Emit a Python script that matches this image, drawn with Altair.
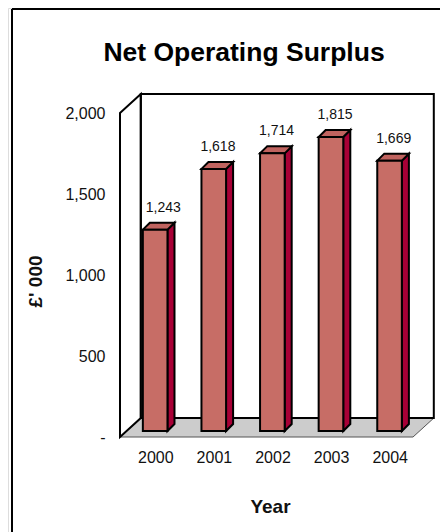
import altair as alt
import pandas as pd

YEARS = [2000, 2001, 2002, 2003, 2004]
VALUES = [1243, 1618, 1714, 1815, 1669]
Y_TICKS = [0, 500, 1000, 1500, 2000]

FONT = "Liberation Sans"
FACE = "#C76D66"
TOP = "#C0635F"
SIDE = "#A80036"
FLOOR = "#CCCCCC"
INK = "#111111"

X0, X1 = 1999.5, 2004.5
WALL_DX, WALL_DV = 0.355, 117.0      # depth of the box, in axis units
BAR_FX, BAR_FV = 0.10, 37.0          # bar front, set back from the box front
BAR_DX, BAR_DV = 0.12, 43.0          # bar depth
BAR_HW = 0.21

x_s = alt.Scale(domain=[X0, X1], range=[112, 405], nice=False, zero=False)
y_s = alt.Scale(domain=[0, 2000], range=[429, 105], nice=False, zero=False)

x_axis = alt.Axis(
    values=YEARS, format="d", title="Year", offset=-75, domain=False, ticks=False,
    grid=False, labelOffset=6, labelPadding=0, labelFont=FONT, labelFontSize=16,
    labelColor=INK, titleFont=FONT, titleFontSize=19, titleFontWeight="bold",
    titleColor=INK, titleX=262, titleY=49, titleBaseline="middle", labelFlush=False,
    labelOverlap=False, labelBaseline="middle")
y_axis = alt.Axis(
    values=Y_TICKS, labelExpr="datum.value == 0 ? '-' : format(datum.value, ',')",
    title="£' 000", offset=-97, domain=False, ticks=False, grid=False, labelPadding=0,
    labelFont=FONT, labelFontSize=16, labelColor=INK, titleFont=FONT, titleFontSize=19,
    titleFontWeight="bold", titleColor=INK, titleX=-60, titleY=273, labelOverlap=False)


def X(f):
    return alt.X(f, scale=x_s, axis=x_axis, stack=None)


def Y(f):
    return alt.Y(f, scale=y_s, axis=y_axis, stack=None)


fronts, sides, tops = [], [], []
for yr, v in zip(YEARS, VALUES):
    l, r = yr + BAR_FX - BAR_HW, yr + BAR_FX + BAR_HW
    b, t = BAR_FV, BAR_FV + v
    fronts.append(dict(year=yr, v=v, l=l, r=r, b=b, t=t))
    sides += [dict(id=yr, px=r, py=t, py2=b),
              dict(id=yr, px=r + BAR_DX, py=t + BAR_DV, py2=b + BAR_DV)]
    tops += [dict(id=yr, py=t, px=l, px2=r),
             dict(id=yr, py=t + BAR_DV, px=l + BAR_DX, px2=r + BAR_DX)]
fronts, sides, tops = map(pd.DataFrame, (fronts, sides, tops))
labels = fronts.assign(ly=fronts.t + BAR_DV)

floor = pd.DataFrame([dict(id=0, py=0, px=X0, px2=X1),
                      dict(id=0, py=WALL_DV, px=X0 + WALL_DX, px2=X1 + WALL_DX)])
lwall = pd.DataFrame([dict(id=0, px=X0, py=2000, py2=0),
                      dict(id=0, px=X0 + WALL_DX, py=2000 + WALL_DV, py2=WALL_DV)])
bwall = pd.DataFrame([dict(l=X0 + WALL_DX, r=X1 + WALL_DX, b=WALL_DV, t=2000 + WALL_DV)])
ticks = pd.DataFrame({"year": YEARS, "v": VALUES})

frame_top = alt.Chart(ticks).mark_rule(color="black", strokeWidth=2).encode(
    x=alt.value(4), x2=alt.value(432), y=alt.value(1))
frame_left = alt.Chart(ticks).mark_rule(color="black", strokeWidth=2).encode(
    x=alt.value(4), y=alt.value(1), y2=alt.value(524))

floor_l = alt.Chart(floor).mark_area(orient="horizontal", color=FLOOR, stroke="#555555", strokeWidth=1).encode(
    y=Y("py:Q"), x=X("px:Q"), x2="px2:Q", detail="id:N")
lwall_l = alt.Chart(lwall).mark_area(color="white", stroke="black", strokeWidth=2).encode(
    x=X("px:Q"), y=Y("py:Q"), y2="py2:Q", detail="id:N")
bwall_l = alt.Chart(bwall).mark_rect(fill=None, stroke="black", strokeWidth=2).encode(
    x=X("l:Q"), x2="r:Q", y=Y("b:Q"), y2="t:Q")
side_l = alt.Chart(sides).mark_area(color=SIDE, stroke="black", strokeWidth=2).encode(
    x=X("px:Q"), y=Y("py:Q"), y2="py2:Q", detail="id:N")
top_l = alt.Chart(tops).mark_area(orient="horizontal", color=TOP, stroke="black", strokeWidth=2).encode(
    y=Y("py:Q"), x=X("px:Q"), x2="px2:Q", detail="id:N")
front_l = alt.Chart(fronts).mark_rect(fill=FACE, stroke="black", strokeWidth=2).encode(
    x=X("l:Q"), x2="r:Q", y=Y("b:Q"), y2="t:Q")


def text_layer(cond, dx):
    return alt.Chart(labels).transform_filter(cond).mark_text(
        font=FONT, fontSize=14, color=INK, dy=-15, dx=dx, baseline="middle").encode(
        x=X("year:Q"), y=Y("ly:Q"), text=alt.Text("v:Q", format=","))


chart = alt.layer(
    frame_top, frame_left, floor_l, lwall_l, bwall_l, side_l, top_l, front_l,
    text_layer("datum.year == 2000", 14), text_layer("datum.year != 2000", 10),
).properties(
    width=432, height=524, padding=0,
    autosize=alt.AutoSizeParams(type="none"),
    title=alt.TitleParams("Net Operating Surplus", font=FONT, fontSize=26.5, fontWeight="bold",
                          color="black", anchor="middle", frame="group", offset=0, dx=20, dy=58),
).configure_view(stroke=None).configure(background="white")

chart.save("out.html", embed_options={"renderer": "svg", "actions": False})
